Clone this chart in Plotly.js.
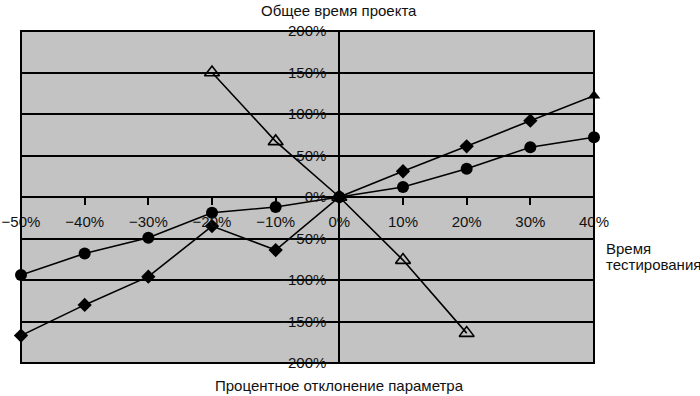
<!DOCTYPE html>
<html>
<head>
<meta charset="utf-8">
<script src="https://cdn.plot.ly/plotly-3.0.1.min.js"></script>
<style>html,body{margin:0;padding:0;background:#fff;}#chart{width:700px;height:396px;}</style>
</head>
<body>
<div id="chart"></div>
<script>
var xPct = [-50, -40, -30, -20, -10, 0, 10, 20, 30, 40];
var circleSeries = [-94, -68, -49, -19, -12, 0, 12, 34, 60, 72];
var diamondSeries = [-167, -130, -96, -35, -64, 0, 31, 61, 92, 122];
var diamondSymbols = ['diamond','diamond','diamond','diamond','diamond','diamond','diamond','diamond','diamond','triangle-up'];
var triX = [-20, -10, 0, 10, 20];
var triSeries = [150, 67, 0, -76, -164];
var xTicks = [-50, -40, -30, -20, -10, 0, 10, 20, 30, 40];
var yTicks = [-200, -150, -100, -50, 0, 50, 100, 150, 200];
var topTitle = 'Общее время проекта';
var bottomTitle = 'Процентное отклонение параметра';
var rightLabelLines = ['Время', 'тестирования'];

var FONT = '"Liberation Sans", Arial, sans-serif';
var FS = 15;

function pct(v){ return (v < 0 ? '\u2212' + (-v) : v) + '%'; }

var traces = [
  {x: xPct, y: circleSeries, mode: 'lines+markers', line: {color: '#000', width: 1.6},
   marker: {symbol: 'circle', size: 12, color: '#000'}, cliponaxis: false},
  {x: xPct, y: diamondSeries, mode: 'lines+markers', line: {color: '#000', width: 1.6},
   marker: {symbol: diamondSymbols, size: 11, color: '#000'}, cliponaxis: false},
  {x: triX, y: triSeries, mode: 'lines+markers', line: {color: '#000', width: 1.6},
   marker: {symbol: 'triangle-up-open', size: 13, color: '#000', line: {width: 1.6, color: '#000'}}, cliponaxis: false}
];

var layout = {
  width: 700, height: 396,
  margin: {l: 21, r: 106, t: 31, b: 33},
  paper_bgcolor: '#fff', plot_bgcolor: '#c3c3c3',
  showlegend: false,
  font: {family: FONT, size: FS, color: '#111'},
  xaxis: {
    range: [-50, 40], anchor: 'free', position: 0.5,
    tickvals: xTicks, ticktext: xTicks.map(pct),
    ticks: 'outside', ticklen: 7, tickwidth: 2, tickcolor: '#000',
    ticklabelstandoff: 4, ticklabeloverflow: 'allow',
    showgrid: false, zeroline: true, zerolinecolor: '#000', zerolinewidth: 2,
    showline: false, tickfont: {family: FONT, size: FS, color: '#111'}
  },
  yaxis: {
    range: [-200, 200], anchor: 'free', position: 50/90,
    tickvals: yTicks, ticktext: yTicks.map(pct),
    ticks: '', ticklabelstandoff: 13, ticklabeloverflow: 'allow',
    showgrid: true, gridcolor: '#000', gridwidth: 2,
    zeroline: true, zerolinecolor: '#000', zerolinewidth: 2,
    showline: false, tickfont: {family: FONT, size: FS, color: '#111'}
  },
  shapes: [
    {type: 'rect', xref: 'paper', yref: 'paper', x0: 0, x1: 1, y0: 0, y1: 1,
     line: {color: '#000', width: 2}, fillcolor: 'rgba(0,0,0,0)'}
  ],
  annotations: [
    {text: topTitle, xref: 'x', yref: 'paper', x: 0, y: 1, yshift: 21, showarrow: false,
     font: {family: FONT, size: FS, color: '#111'}, xanchor: 'center', yanchor: 'middle'},
    {text: bottomTitle, xref: 'x', yref: 'paper', x: 0, y: 0, yshift: -22, showarrow: false,
     font: {family: FONT, size: FS, color: '#111'}, xanchor: 'center', yanchor: 'middle'},
    {text: rightLabelLines[0], xref: 'paper', yref: 'y', x: 1, y: -50, xshift: 10, yshift: -10, showarrow: false,
     align: 'left', xanchor: 'left', yanchor: 'middle',
     font: {family: FONT, size: FS, color: '#111'}},
    {text: rightLabelLines[1], xref: 'paper', yref: 'y', x: 1, y: -50, xshift: 10, yshift: -26, showarrow: false,
     align: 'left', xanchor: 'left', yanchor: 'middle',
     font: {family: FONT, size: FS, color: '#111'}}
  ]
};

Plotly.newPlot('chart', traces, layout, {displayModeBar: false, staticPlot: true});
</script>
</body>
</html>
